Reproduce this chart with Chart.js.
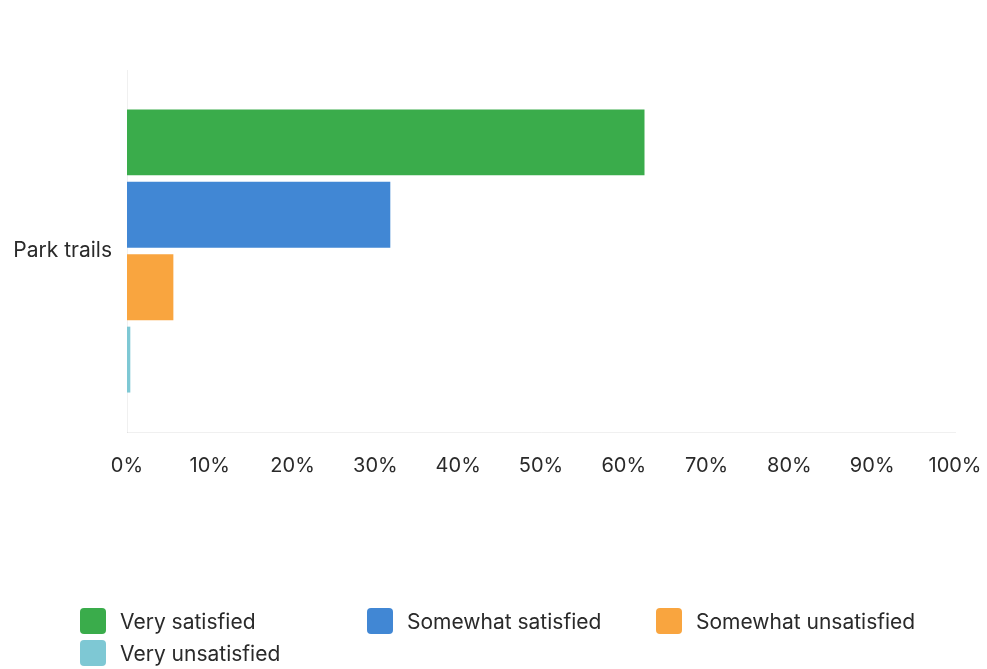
<!DOCTYPE html>
<html>
<head>
<meta charset="utf-8">
<script src="https://cdn.jsdelivr.net/npm/chart.js@4/dist/chart.umd.min.js"></script>
<style>
html,body{margin:0;padding:0;background:#fff;}
#wrap{position:relative;width:987px;height:669px;overflow:hidden;}
#c{position:absolute;left:0;top:0;}
.lg{position:absolute;font-family:"Inter","Lato",sans-serif;font-size:21px;color:#2a2a2a;white-space:nowrap;line-height:26px;}
.lg span.b{position:absolute;left:0;top:0;width:26px;height:26px;border-radius:4px;}
.lg span.t{position:absolute;left:40px;top:1px;}
</style>
</head>
<body>
<div id="wrap">
<canvas id="c" width="987" height="669"></canvas>
</div>
<script>
const categories = ["Park trails"];
const seriesNames = ["Very satisfied", "Somewhat satisfied", "Somewhat unsatisfied", "Very unsatisfied"];
const verySatisfied = [62.5];
const somewhatSatisfied = [31.8];
const somewhatUnsatisfied = [5.6];
const veryUnsatisfied = [0.4];
const tickValues = [0, 10, 20, 30, 40, 50, 60, 70, 80, 90, 100];
const colors = ["#3aac4b", "#4187d4", "#f9a53f", "#7ec8d4"];

const seriesValues = [verySatisfied, somewhatSatisfied, somewhatUnsatisfied, veryUnsatisfied];

new Chart(document.getElementById('c'), {
  type: 'bar',
  data: {
    labels: categories,
    datasets: seriesNames.map((n, i) => ({
      label: n,
      data: seriesValues[i],
      backgroundColor: colors[i],
      borderWidth: 0,
      barPercentage: 0.91,
      categoryPercentage: 0.8
    }))
  },
  options: {
    indexAxis: 'y',
    responsive: false,
    animation: false,
    layout: {padding: {top: 70, right: 32, bottom: 187, left: 0}},
    plugins: {legend: {display: false}, tooltip: {enabled: false}},
    scales: {
      x: {
        min: 0, max: 100,
        afterBuildTicks: s => { s.ticks = tickValues.map(v => ({value: v})); },
        afterFit: s => { s.height = 50; s.paddingRight = 0; s.paddingLeft = 0; },
        grid: {display: false, drawTicks: false},
        border: {display: true, color: 'rgba(0,0,0,0.06)', dash: [3, 4]},
        ticks: {font: {family: "Inter, Lato, sans-serif", size: 20}, color: '#2a2a2a', padding: 22, maxRotation: 0, autoSkip: false,
                callback: v => v + '%'}
      },
      y: {
        afterFit: s => { s.width = 127; },
        grid: {display: false, drawTicks: false},
        border: {display: true, color: 'rgba(0,0,0,0.06)', dash: [3, 4]},
        ticks: {font: {family: "Inter, Lato, sans-serif", size: 21}, color: '#2a2a2a', padding: 15}
      }
    }
  }
});

// HTML legend built from series arrays
const legendPos = [[80, 608], [367, 608], [656, 608], [80, 640]];
const wrap = document.getElementById('wrap');
seriesNames.forEach((n, i) => {
  const d = document.createElement('div');
  d.className = 'lg';
  d.style.left = legendPos[i][0] + 'px';
  d.style.top = legendPos[i][1] + 'px';
  d.innerHTML = '<span class="b" style="background:' + colors[i] + '"></span><span class="t"></span>';
  d.querySelector('.t').textContent = n;
  wrap.appendChild(d);
});
</script>
</body>
</html>
